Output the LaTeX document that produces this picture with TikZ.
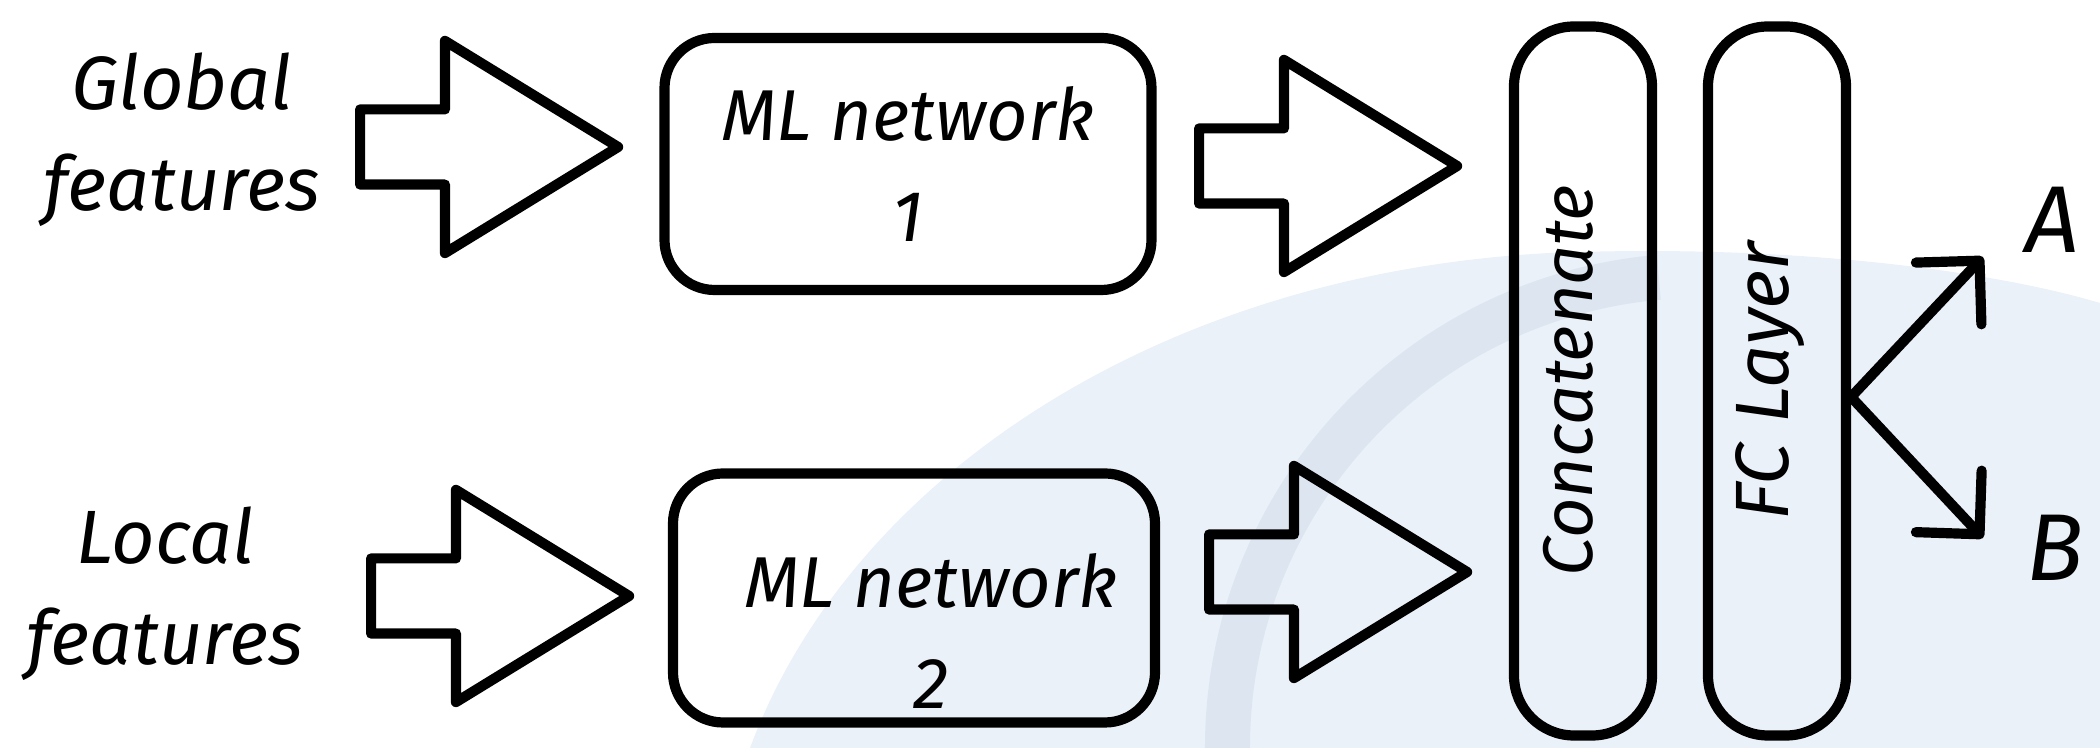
\documentclass[tikz,border=0pt]{standalone}
\usepackage{fontspec}
\setmainfont{Fira Sans}
\usetikzlibrary{shapes.arrows,arrows.meta,positioning}

\definecolor{wmlight}{RGB}{235,241,248}
\definecolor{wmdark}{RGB}{221,229,240}

\tikzset{
	sketch/.style={line width=2.9pt, line join=round, line cap=round},
	fatarrow/.style={sketch, draw, shape=single arrow, anchor=tail, inner xsep=0pt, inner ysep=0.325cm,
		minimum height=2.58cm, minimum width=2.02cm, single arrow head extend=0.685cm,
		single arrow tip angle=63},
	nettext/.style={align=center, font=\itshape\fontsize{20.5}{28.5}\selectfont},
	netbox/.style={sketch, draw, nettext, rounded corners=0.5cm},
	column/.style={sketch, draw, rounded corners=0.6cm, rotate=90, minimum width=7.09cm,
		minimum height=1.38cm, text depth=0.3cm, font=\itshape\fontsize{20}{24}\selectfont},
	feat/.style={align=center, font=\itshape\fontsize{21.5}{28.7}\selectfont},
	outlbl/.style={font=\itshape\fontsize{27}{32}\selectfont},
	outarrow/.style={sketch, -{Straight Barb[round, length=4.5mm, width=9mm]}}
}

\begin{document}
\begin{tikzpicture}
		\useasboundingbox (0,0) rectangle (21,7.48);

		% watermark
		\fill[wmlight] (7.5,0) .. controls (8.5,2.7) and (11.6,4.75) .. (15.5,4.95)
			.. controls (18,5.05) and (20,4.75) .. (21,4.45) -- (21,0) -- cycle;
		\begin{scope}[shift={(17,0)}]
			\fill[wmdark] (95:4.95) arc[start angle=95, end angle=185, radius=4.95]
				-- (185:4.5) arc[start angle=185, end angle=95, radius=4.5] -- cycle;
		\end{scope}

		\node[feat] (global) at (1.82,6.08) {Global\\features};
		\node[feat] (local) at (1.65,1.54) {Local\\features};

		\node[fatarrow] (in1) at (3.55,6.01) {};
		\node[fatarrow] (in2) at (3.66,1.52) {};

		\node[netbox, minimum width=4.87cm, minimum height=2.52cm] (net1) at (9.08,5.84) {ML network\\1};
		\node[netbox, minimum width=4.82cm, minimum height=2.49cm] (net2) at (9.14,1.50) {};
		\node[nettext] (net2txt) at (9.31,1.17) {ML network\\2};

		\node[fatarrow] (mid1) at (11.94,5.82) {};
		\node[fatarrow] (mid2) at (12.04,1.76) {};

		\node[column] (concat) at (15.83,3.67) {Concatenate};
		\node[column, font=\itshape\fontsize{21.5}{24}\selectfont] (fc) at (17.77,3.67) {FC Layer};

		\node[outlbl] (outA) at (20.52,5.28) {A};
		\node[outlbl] (outB) at (20.55,2.00) {B};

		\coordinate (split) at ([yshift=-1.6mm]fc.south);
		\coordinate (tipA) at ([xshift=-6.9mm, yshift=-3.7mm]outA.center);
		\coordinate (tipB) at ([xshift=-7.2mm, yshift=1mm]outB.center);
		\draw[outarrow] (split) -- (tipA);
		\draw[outarrow] (split) -- (tipB);
\end{tikzpicture}
\end{document}
